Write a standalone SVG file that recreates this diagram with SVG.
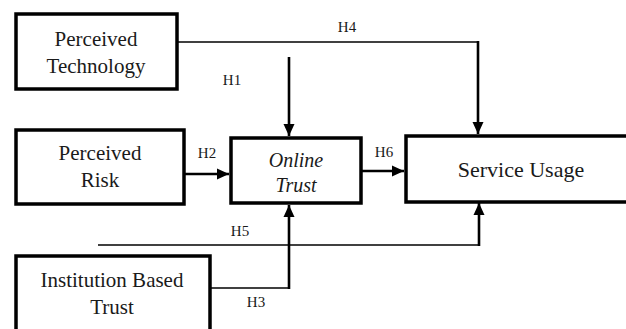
<svg xmlns="http://www.w3.org/2000/svg" width="626" height="329" viewBox="0 0 626 329">
  <defs>
    <marker id="arr" markerUnits="userSpaceOnUse" markerWidth="14" markerHeight="14" viewBox="0 0 14 14" refX="13" refY="7" orient="auto">
      <path d="M1,1.5 L13,7 L1,12.5 Z" fill="#000"/>
    </marker>
    <style>
      .box { fill: #fff; stroke: #000; stroke-width: 3.5; }
      .t { font-family: "Liberation Serif", "Times New Roman", serif; font-size: 21px; fill: #1a1a1a; text-anchor: middle; }
      .it { font-style: italic; font-size: 20px; }
      .su { font-size: 22px; }
      .h { font-family: "Liberation Serif", "Times New Roman", serif; font-size: 15px; fill: #1a1a1a; text-anchor: middle; }
      .thin { fill: none; stroke: #000; stroke-width: 1.6; }
      .thick { fill: none; stroke: #000; stroke-width: 2.6; }
    </style>
  </defs>
  <rect width="626" height="329" fill="#fff"/>

  <g id="connectors">
    <path class="thin" d="M177,42 H478"/>
    <path class="thick" d="M478,41 V134" marker-end="url(#arr)"/>
    <path class="thick" d="M289,57 V136" marker-end="url(#arr)"/>
    <path class="thick" d="M184,174 H229" marker-end="url(#arr)"/>
    <path class="thick" d="M361,171 H404" marker-end="url(#arr)"/>
    <path class="thin" d="M98,245 H479"/>
    <path class="thick" d="M479,246 V203" marker-end="url(#arr)"/>
    <path class="thin" d="M210,288 H289"/>
    <path class="thick" d="M289,289 V205" marker-end="url(#arr)"/>
    <text class="h" x="232" y="85">H1</text>
    <text class="h" x="207" y="158">H2</text>
    <text class="h" x="256" y="307">H3</text>
    <text class="h" x="347" y="32">H4</text>
    <text class="h" x="240" y="236">H5</text>
    <text class="h" x="384" y="157">H6</text>
  </g>

  <g id="perceived-technology">
    <rect class="box" x="16" y="14" width="161" height="75"/>
    <text class="t" x="96" y="46">Perceived</text>
    <text class="t" x="96" y="73">Technology</text>
  </g>

  <g id="perceived-risk">
    <rect class="box" x="16" y="130" width="168" height="74"/>
    <text class="t" x="100" y="160">Perceived</text>
    <text class="t" x="100" y="187">Risk</text>
  </g>

  <g id="online-trust">
    <rect class="box" x="231" y="138" width="130" height="65"/>
    <text class="t it" x="296" y="167">Online</text>
    <text class="t it" x="296" y="192">Trust</text>
  </g>

  <g id="service-usage">
    <rect class="box" x="406" y="136" width="240" height="66"/>
    <text class="t su" x="521" y="177">Service Usage</text>
  </g>

  <g id="institution-based-trust">
    <rect class="box" x="16" y="256" width="194" height="90"/>
    <text class="t" x="112" y="287">Institution Based</text>
    <text class="t" x="112" y="314">Trust</text>
  </g>
</svg>
